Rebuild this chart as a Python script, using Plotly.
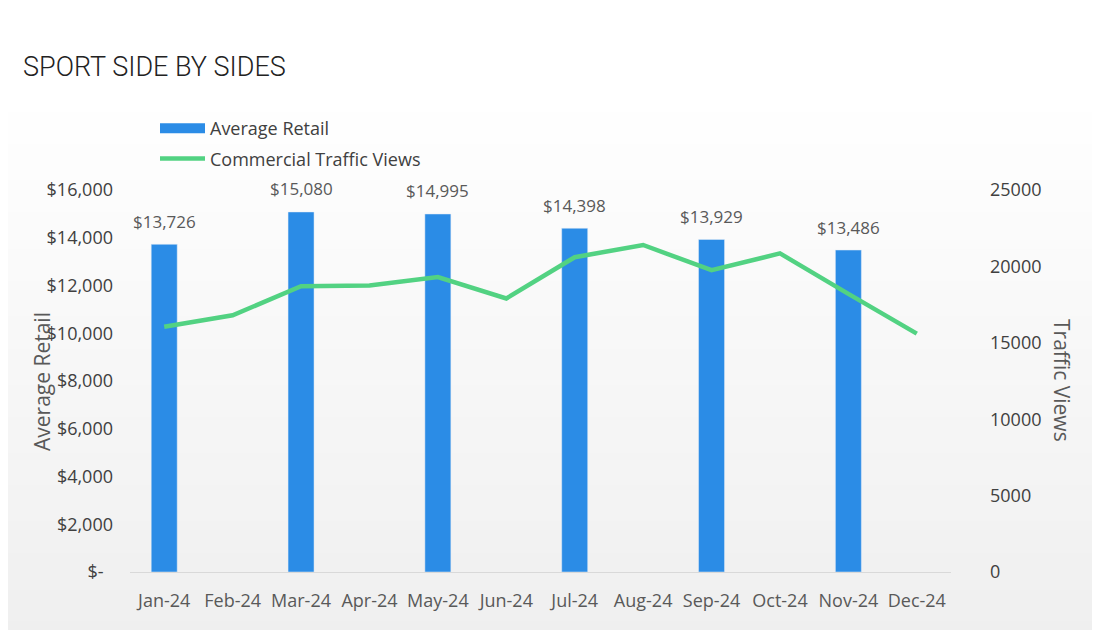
import plotly.graph_objects as go

# data
months = ["Jan-24", "Feb-24", "Mar-24", "Apr-24", "May-24", "Jun-24",
          "Jul-24", "Aug-24", "Sep-24", "Oct-24", "Nov-24", "Dec-24"]
avg_retail = [13726, None, 15080, None, 14995, None,
              14398, None, 13929, None, 13486, None]
traffic_views = [16050, 16800, 18700, 18750, 19300, 17900,
                 20600, 21400, 19750, 20850, 18200, 15600]

left_tickvals = [0, 2000, 4000, 6000, 8000, 10000, 12000, 14000, 16000]
left_ticktext = ["$-  ", "$2,000", "$4,000", "$6,000", "$8,000",
                 "$10,000", "$12,000", "$14,000", "$16,000"]
right_tickvals = [0, 5000, 10000, 15000, 20000, 25000]

GREY = "#595959"
DARK = "#404040"
FONT = "Open Sans"
BLUE = "#2B8CE6"

# page body adds 8px margin, so work in screenshot pixels minus 8
OFF = 8
L, R, T, B = 130 - OFF, 951 - OFF, 190 - OFF, 572 - OFF
PW, PH = R - L, B - T


def px(x):
    return (x - OFF - L) / PW


def py(y):
    return (B - (y - OFF)) / PH


fig = go.Figure()

fig.add_trace(go.Bar(
    x=months, y=avg_retail, name="Average Retail",
    marker_color=BLUE, width=0.38, showlegend=False, yaxis="y",
))
# legend entry for the bars (wide rectangle like the original)
fig.add_trace(go.Scatter(
    x=[None], y=[None], name="Average Retail", mode="lines",
    line=dict(color=BLUE, width=11), legendgroup="a",
))
fig.add_trace(go.Scatter(
    x=months, y=traffic_views, name="Commercial Traffic Views",
    mode="lines", line=dict(color="#52D282", width=4.5),
    legendgroup="b", yaxis="y2",
))

# data labels above bars
for m, v in zip(months, avg_retail):
    if v is None:
        continue
    fig.add_annotation(x=m, y=v, xref="x", yref="y", text=f"${v:,}",
                       showarrow=False, yshift=23,
                       font=dict(family=FONT, size=17, color=GREY))

# soft white -> grey background
n = 120
for i in range(n):
    p0 = 95 + (640 - 95) * i / n
    p1 = 95 + (640 - 95) * (i + 1) / n
    g = int(round(255 - (255 - 239) * (i + 0.5) / n))
    fig.add_shape(type="rect", xref="paper", yref="paper",
                  x0=-0.5, x1=1.5, y0=py(p1), y1=py(p0) + 0.002,
                  fillcolor=f"rgb({g},{g},{g})", line_width=0, layer="below")

# axis titles
fig.add_annotation(x=px(42), y=py(382), xref="paper", yref="paper",
                   xanchor="center", yanchor="middle",
                   text="Average Retail", showarrow=False, textangle=-90,
                   font=dict(family=FONT, size=21, color=GREY))
fig.add_annotation(x=px(1062), y=py(380), xref="paper", yref="paper",
                   xanchor="center", yanchor="middle",
                   text="Traffic Views", showarrow=False, textangle=90,
                   font=dict(family=FONT, size=21, color=GREY))

fig.update_layout(
    width=1100, height=630,
    margin=dict(l=L, r=1100 - R, t=T, b=630 - B, autoexpand=False),
    paper_bgcolor="white",
    plot_bgcolor="rgba(0,0,0,0)",
    font=dict(family=FONT, size=18, color=GREY),
    title=dict(text="SPORT SIDE BY SIDES", x=(24 - OFF - 1) / 1100, xanchor="left",
               y=1 - (67 - OFF) / 630, yanchor="middle",
               font=dict(family="Roboto", size=27, color="#222222", weight=300)),
    showlegend=True,
    legend=dict(x=px(155), y=py(110), xanchor="left", yanchor="top",
                orientation="v", bgcolor="rgba(0,0,0,0)",
                itemwidth=45, tracegroupgap=4,
                font=dict(family=FONT, size=18, color=DARK)),
    xaxis=dict(showgrid=False, showline=True, linecolor="#d9d9d9", linewidth=1,
               ticks="", ticklabelstandoff=12, tickangle=0,
               tickfont=dict(size=18, color=GREY)),
    yaxis=dict(range=[0, 16000], tickvals=left_tickvals, ticktext=left_ticktext,
               showgrid=False, zeroline=False, showline=False, ticks="",
               ticklabelstandoff=16, tickfont=dict(size=18, color=DARK)),
    yaxis2=dict(range=[0, 25000], overlaying="y", side="right",
                tickvals=right_tickvals, tickformat="d",
                showgrid=False, zeroline=False, showline=False, ticks="",
                ticklabelstandoff=38, tickfont=dict(size=18, color=DARK)),
    bargap=0.6,
)

fig.write_html("out.html")
